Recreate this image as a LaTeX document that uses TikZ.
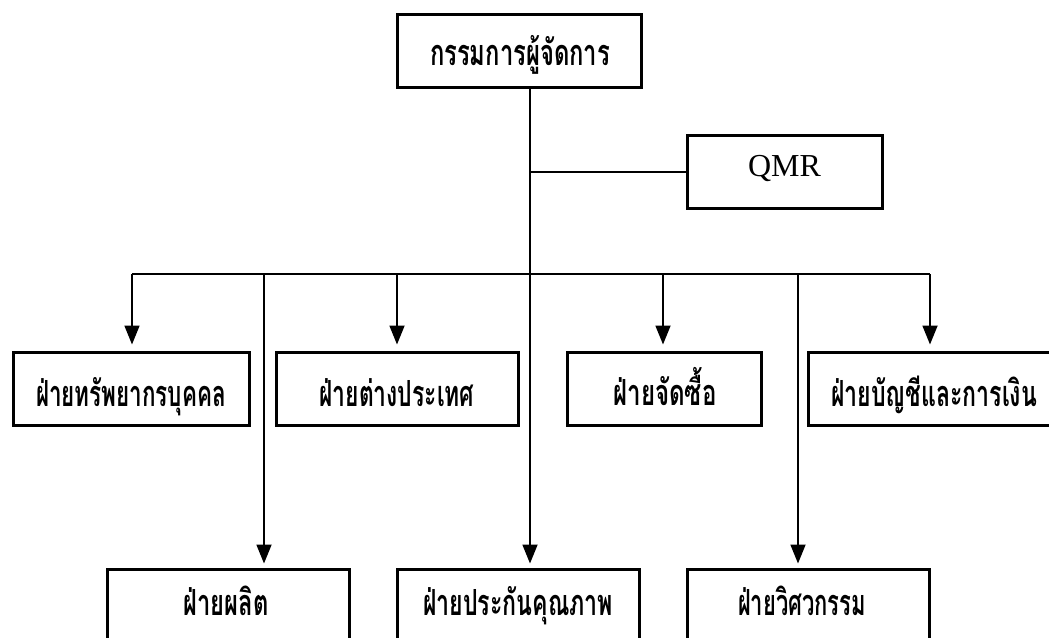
\documentclass[tikz,border=0pt]{standalone}
\usepackage{fontspec}
\usepackage{graphicx}
\setmainfont{Liberation Serif}
\newfontfamily\thaifont[Script=Thai]{Loma}
\usetikzlibrary{arrows.meta}
% #1 text width, #2 baseline below centre, #3 horizontal offset, #4 text
\newcommand{\thw}[4]{\raisebox{-#2pt}[0pt][0pt]{\makebox[0pt]{\hspace*{#3pt}\hspace*{#3pt}\resizebox{#1pt}{\height}{\thaifont\bfseries\fontsize{36}{40}\selectfont #4}}}}
\tikzset{
  box/.style={draw=black, line width=3pt, inner sep=0pt, minimum height=73pt, fill=white},
  link/.style={line width=2pt},
  arr/.style={line width=1.8pt, -{Triangle[width=15pt,length=19pt]}},
}
\begin{document}
\begin{tikzpicture}[x=1pt,y=-1pt]
\fill[white] (0,0) rectangle (1049,637);
\clip (0,0) rectangle (1049,637);
% junctions on the bar
\coordinate (j1) at (132,274);
\coordinate (j2) at (264,274);
\coordinate (j3) at (397,274);
\coordinate (j4) at (530,274);
\coordinate (j5) at (663,274);
\coordinate (j6) at (798,274);
\coordinate (j7) at (930,274);
% boxes
\node[box, minimum width=244pt] (md) at (519,50.5) {\thw{180}{14.5}{1}{กรรมการผู้จัดการ}};
\node[box, minimum width=195pt] (qmr) at (784.5,171.5) {\raisebox{-5pt}[0pt][0pt]{\makebox[0pt]{\fontsize{32}{36}\selectfont QMR}}};
\node[box, minimum width=236pt] (hr) at (131,388.5) {\thw{190}{18}{0}{ฝ่ายทรัพยากรบุคคล}};
\node[box, minimum width=242pt] (intl) at (397,388.5) {\thw{155}{18}{0}{ฝ่ายต่างประเทศ}};
\node[box, minimum width=194pt] (purch) at (664,388.5) {\thw{103}{17}{1}{ฝ่ายจัดซื้อ}};
\node[box, minimum width=244pt] (acct) at (930,388.5) {\thw{206}{18}{4}{ฝ่ายบัญชีและการเงิน}};
\node[box, minimum width=242pt] (prod) at (228,605.5) {\thw{85}{10}{-2}{ฝ่ายผลิต}};
\node[box, minimum width=242pt] (qa) at (518,605.5) {\thw{190}{10}{0}{ฝ่ายประกันคุณภาพ}};
\node[box, minimum width=242pt] (eng) at (808,605.5) {\thw{128}{10}{-6}{ฝ่ายวิศวกรรม}};
% connectors
\draw[link] (md.south -| j4) -- (j4);
\draw[link] (qmr.west -| j4) -- (qmr.west);
\draw[link] (j1) -- (j7);
\draw[arr, shorten >=6pt] (j1) -- (j1 |- hr.north);
\draw[arr, shorten >=6pt] (j3) -- (j3 |- intl.north);
\draw[arr, shorten >=6pt] (j5) -- (j5 |- purch.north);
\draw[arr, shorten >=6pt] (j7) -- (j7 |- acct.north);
\draw[arr, shorten >=4pt] (j2) -- (j2 |- prod.north);
\draw[arr, shorten >=4pt] (j4) -- (j4 |- qa.north);
\draw[arr, shorten >=4pt] (j6) -- (j6 |- eng.north);
\end{tikzpicture}
\end{document}
